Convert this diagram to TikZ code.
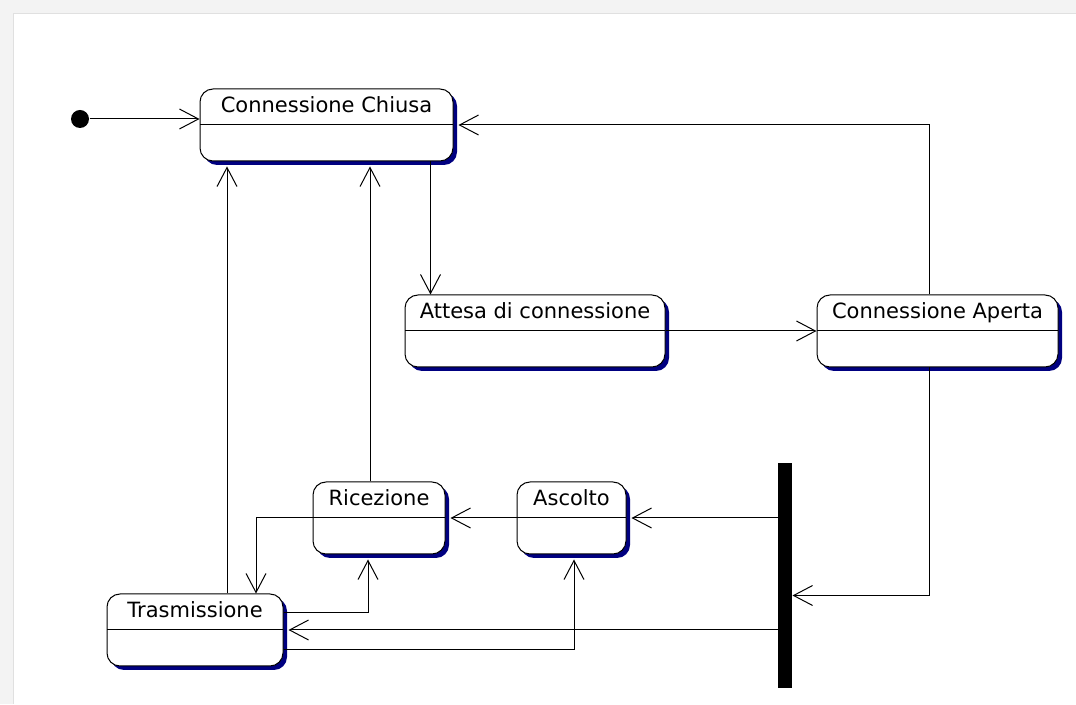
\documentclass[tikz,border=0pt]{standalone}
\usepackage{fontspec}
\setmainfont{DejaVu Sans}
\usetikzlibrary{arrows.meta,shadows}
\definecolor{shadownavy}{RGB}{0,0,128}
\definecolor{framegray}{RGB}{243,243,243}

\begin{document}
\begin{tikzpicture}[x=1pt,y=1pt,line width=1pt,
    statebox/.style={draw,fill=white,rounded corners=13pt,inner xsep=0pt,inner ysep=8pt,
      text height=16pt,text depth=40pt,font=\fontsize{21}{25}\selectfont,
      drop shadow={shadow xshift=4pt,shadow yshift=-4pt,fill=shadownavy,opacity=1},
      path picture={\draw (path picture bounding box.west) -- (path picture bounding box.east);}},
    trans/.style={-{Straight Barb[length=19pt,width=20pt]}},
    toshadow/.style={trans,shorten >=5pt}]
        \useasboundingbox (0,0) rectangle (1076,704);
        \fill[framegray] (0,0) rectangle (1076,704);
        \fill[white] (13,0) rectangle (1076,690);
        \draw[black!12] (13,0) -- (13,690) -- (1076,690);

        \node[circle,fill,minimum size=18pt,inner sep=0pt] (inizio) at (80,585) {};
        \node[statebox,minimum width=253pt] (chiusa) at (326.5,579) {Connessione Chiusa};
        \node[statebox,minimum width=260pt] (attesa) at (535,373) {Attesa di connessione};
        \node[statebox,minimum width=241pt] (aperta) at (937.5,373) {Connessione Aperta};
        \node[statebox,minimum width=132pt] (ricezione) at (379,186) {Ricezione};
        \node[statebox,minimum width=109pt] (ascolto) at (571.5,186) {Ascolto};
        \node[statebox,minimum width=176pt] (trasmissione) at (195,74) {Trasmissione};
        \node[fill,minimum width=14pt,minimum height=225pt,inner sep=0pt] (fork) at (785,128.5) {};

        \draw[trans] (inizio) -- (inizio -| chiusa.west);
        \draw[trans] ([xshift=104pt]chiusa.south) -- ([xshift=104pt]chiusa.south |- attesa.north);
        \draw[trans] (attesa.east) -- (aperta.west);
        \draw[toshadow] ([xshift=-8pt]aperta.north) |- (chiusa.east);
        \draw[trans] ([xshift=-8pt]aperta.south) |- ([yshift=-20pt]fork.east);
        \draw[toshadow] (fork.west |- ascolto.east) -- (ascolto.east);
        \draw[toshadow] (fork.west |- trasmissione.east) -- (trasmissione.east);
        \draw[toshadow] (ascolto.west) -- (ricezione.east);
        \draw[trans] (ricezione.west) -| ([xshift=61pt]trasmissione.north);
        \draw[toshadow] ([yshift=17pt]trasmissione.east) -| ([xshift=-11pt]ricezione.south);
        \draw[toshadow] ([yshift=-20pt]trasmissione.east) -| ([xshift=2.5pt]ascolto.south);
        \draw[toshadow] ([xshift=32pt]trasmissione.north) -- ([xshift=32pt]trasmissione.north |- chiusa.south);
        \draw[toshadow] ([xshift=-9pt]ricezione.north) -- ([xshift=-9pt]ricezione.north |- chiusa.south);
      \end{tikzpicture}
\end{document}
